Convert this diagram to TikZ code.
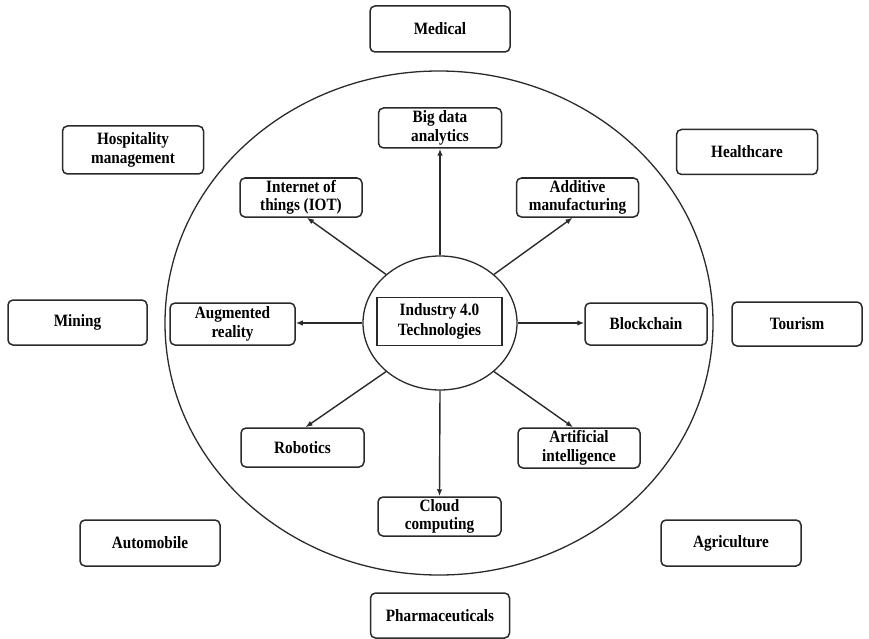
\documentclass[tikz,border=0pt]{standalone}
\usepackage{fontspec}
\setmainfont{Liberation Serif}[FakeStretch=0.88]
\usetikzlibrary{shapes.geometric,arrows.meta,calc}
\definecolor{ink}{HTML}{2A2A2A}
\begin{document}
\begin{tikzpicture}[x=1pt,y=-1pt,
  every node/.style={font=\bfseries\fontsize{17.3}{18.5}\selectfont, text=black, align=center},
  card/.style={draw=ink, line width=1.5pt, rounded corners=5pt, inner sep=0pt,
    minimum width=140pt, minimum height=46pt},
  tech/.style={draw=ink, line width=1.5pt, rounded corners=5pt, inner sep=0pt,
    minimum width=122pt, minimum height=40pt},
  arr/.style={draw=ink, line width=1.4pt, -{Latex[length=7pt,width=5.5pt]}}]
\useasboundingbox (0,0) rectangle (869,639);

% outer ring of application sectors
\draw[ink, line width=1.3pt] (439,323) ellipse [x radius=274pt, y radius=252pt];

% hub
\node[draw=ink, line width=1.3pt, ellipse, minimum width=154pt, minimum height=134pt, inner sep=0pt] (hub) at (440,323) {};
\node[draw=ink, line width=1.5pt, minimum width=125pt, minimum height=48pt, inner sep=0pt,
  font=\bfseries\fontsize{17.3}{20}\selectfont] (core) at (439.5,321.5) {Industry 4.0\\Technologies};

% technologies
\node[tech, minimum width=123pt] (big) at (440,128) {Big data\\analytics};
\node[tech, minimum height=39pt] (iot) at (301,197.5) {Internet of\\things (IOT)};
\node[tech, minimum height=39pt] (add) at (577.5,197.5) {Additive\\manufacturing};
\node[tech, minimum width=125pt, minimum height=42pt] (aug) at (232.5,324) {Augmented\\reality};
\node[tech, minimum height=42pt] (block) at (646,324) {Blockchain};
\node[tech, minimum width=123pt, minimum height=39pt] (robot) at (302.5,447.5) {Robotics};
\node[tech] (ai) at (579,448) {Artificial\\intelligence};
\node[tech, minimum width=123pt, minimum height=39pt] (cloud) at (439.5,516.5) {Cloud\\computing};

% sectors
\node[card] (med) at (440,29) {Medical};
\node[card, minimum width=141pt, minimum height=48pt] (hosp) at (133,150) {Hospitality\\management};
\node[card, minimum width=141pt, minimum height=45pt] (health) at (747,152) {Healthcare};
\node[card, minimum width=139pt, minimum height=45pt] (mining) at (77.5,322.5) {Mining};
\node[card, minimum width=130pt, minimum height=44pt] (tour) at (797,324) {Tourism};
\node[card] (auto) at (150,543) {Automobile};
\node[card] (agri) at (731,543) {Agriculture};
\node[card, minimum width=139pt, minimum height=45pt] (pharma) at (440,615.5) {Pharmaceuticals};

% spokes
\draw[arr] (hub.north) -- (big.south);
\draw[arr] (hub.138) -- ([xshift=6pt]iot.south);
\draw[arr] (hub.42) -- ([xshift=-5pt]add.south);
\draw[arr] (hub.west) -- (hub.west -| aug.east);
\draw[arr] (hub.east) -- (hub.east -| block.west);
\draw[arr] (hub.222) -- ([xshift=3pt]robot.north);
\draw[arr] (hub.318) -- ([xshift=-6pt]ai.north);
\draw[arr] (hub.south) -- (cloud.north);
\end{tikzpicture}
\end{document}
